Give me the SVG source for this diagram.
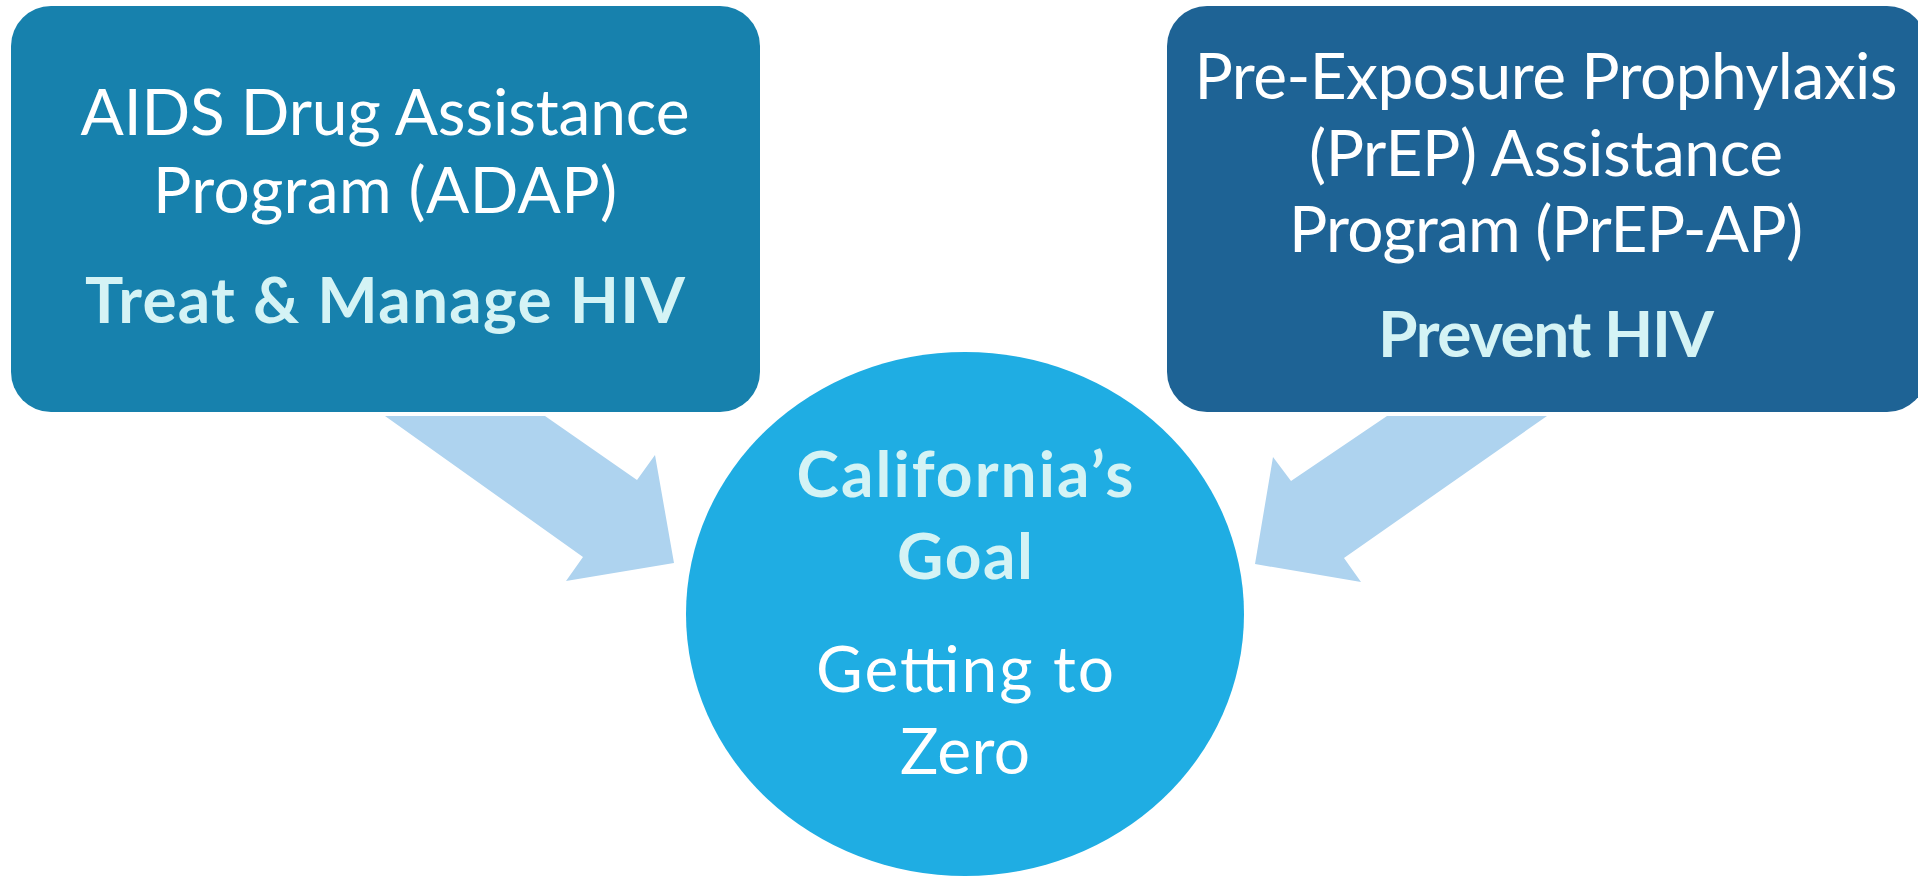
<svg xmlns="http://www.w3.org/2000/svg" width="1918" height="876" viewBox="0 0 1918 876">
<style>
.t{font-family:Lato,"Open Sans","Liberation Sans",sans-serif;font-size:64px;text-anchor:middle;fill:#FFFFFF}
.b{font-weight:bold;fill:#D4F3F5}
.arrow{fill:#AED3EF}
</style>
<rect width="1918" height="876" fill="#FFFFFF"/>
<g id="connectors">
<polygon class="arrow" points="385,416 545,416 637,480 655,455 674,563 566,581 583,557"/>
<polygon class="arrow" points="1547,416 1387,416 1291,481 1273,457 1255,564 1361,582 1344,558"/>
</g>
<g id="adap">
<rect x="11" y="6" width="749" height="406" rx="40" ry="40" fill="#1781AD"/>
<text class="t" x="385" y="135" textLength="609" lengthAdjust="spacing">AIDS Drug Assistance</text>
<text class="t" x="385" y="213" textLength="464" lengthAdjust="spacing">Program (ADAP)</text>
<text class="t b" x="385" y="323" textLength="600" lengthAdjust="spacing">Treat &amp; Manage HIV</text>
</g>
<g id="prep">
<rect x="1167" y="6" width="760" height="406" rx="40" ry="40" fill="#1E6395"/>
<text class="t" x="1546" y="99" textLength="703" lengthAdjust="spacing">Pre-Exposure Prophylaxis</text>
<text class="t" x="1546" y="176" textLength="474" lengthAdjust="spacing">(PrEP) Assistance</text>
<text class="t" x="1546" y="252" textLength="514" lengthAdjust="spacing">Program (PrEP-AP)</text>
<text class="t b" x="1546" y="357" textLength="336" lengthAdjust="spacing">Prevent HIV</text>
</g>
<g id="goal">
<ellipse cx="965" cy="614" rx="279" ry="262" fill="#1FADE3"/>
<text class="t b" x="965" y="497" textLength="337" lengthAdjust="spacing">California’s</text>
<text class="t b" x="965" y="579" textLength="136" lengthAdjust="spacing">Goal</text>
<text class="t" x="965" y="692" textLength="298" lengthAdjust="spacing">Getting to</text>
<text class="t" x="965" y="774" textLength="130" lengthAdjust="spacing">Zero</text>
</g>
</svg>
